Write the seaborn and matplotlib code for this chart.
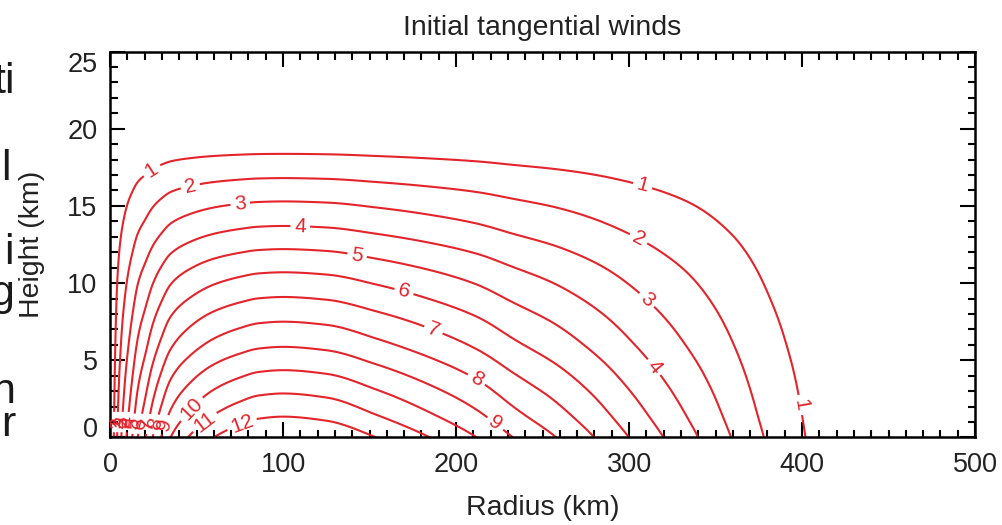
import numpy as np
import matplotlib
matplotlib.use("Agg")
import matplotlib.pyplot as plt
from matplotlib.ticker import MultipleLocator
import seaborn as sns

sns.set_style("ticks")
plt.rcParams['font.family'] = ['Liberation Sans', 'DejaVu Sans']

# ---- data ----
# surface tangential wind (m/s) versus radius (km)
radius_km = [0, 2.2, 4.1, 6.5, 9.5, 12.8, 16, 20.5, 24.6, 29.5, 35, 45, 60, 75, 86,
             100, 125, 154, 185, 212, 233, 258, 280, 300, 320, 340, 359, 378, 402, 415, 425, 500]
v_surface = [0, 1, 2, 3, 4, 5, 6, 7, 8, 9, 10, 11, 12, 12.6, 12.9,
             13, 12.8, 12, 11, 10, 9, 8, 7, 6, 5, 4, 3, 2, 1, 0.35, 0, 0]
# peak tangential wind (m/s) versus height (km)
height_km = [0, 1.35, 2.85, 4.36, 5.87, 7.5, 9.1, 10.7, 12.2, 13.7, 15.29, 16.8, 18.37, 19.5, 20.5, 26]
v_peak = [13, 12, 11, 10, 9, 8, 7, 6, 5, 4, 3, 2, 1, 0.35, 0, 0]

levels = [1, 2, 3, 4, 5, 6, 7, 8, 9, 10, 11, 12]
x_ticks = [0, 100, 200, 300, 400, 500]
y_ticks = [0, 5, 10, 15, 20, 25]

RED = '#e3242b'


def pchip(x, y, xn):
    x = np.asarray(x, float)
    y = np.asarray(y, float)
    h = np.diff(x)
    d = np.diff(y) / h
    m = np.zeros_like(y)
    for i in range(1, len(y) - 1):
        if d[i - 1] * d[i] > 0:
            w1 = 2 * h[i] + h[i - 1]
            w2 = h[i] + 2 * h[i - 1]
            m[i] = (w1 + w2) / (w1 / d[i - 1] + w2 / d[i])
    m[0] = d[0]
    m[-1] = d[-1]
    idx = np.clip(np.searchsorted(x, xn) - 1, 0, len(x) - 2)
    t = (xn - x[idx]) / h[idx]
    h00 = 2 * t**3 - 3 * t**2 + 1
    h10 = t**3 - 2 * t**2 + t
    h01 = -2 * t**3 + 3 * t**2
    h11 = t**3 - t**2
    return h00 * y[idx] + h10 * h[idx] * m[idx] + h01 * y[idx + 1] + h11 * h[idx] * m[idx + 1]


r = np.linspace(0, 500, 1001)
z = np.linspace(0, 26, 521)
vs = pchip(radius_km, v_surface, r)
decay = pchip(height_km, v_peak, z) / v_peak[0]
V = decay[:, None] * vs[None, :]

fig = plt.figure(figsize=(10.02, 5.25), dpi=100)
ax = fig.add_axes([0.1098, 0.1667, 0.8633, 0.7352])

label_spots = {
    1: [(23, 17.5), (308, 16.4), (399, 2.1), (1.5, 1.0)],
    2: [(46, 16.5), (306, 13.0), (4, 1.0)],
    3: [(75, 15.4), (311, 9.0), (7, 1.0)],
    4: [(110, 13.9), (316, 4.7), (10, 1.0)],
    5: [(143, 11.9), (13, 0.9)],
    6: [(170, 9.5), (17, 0.9)],
    7: [(188, 7.3), (21, 0.9)],
    8: [(213, 4.0), (25, 0.9)],
    9: [(224, 1.1), (30, 0.9)],
    10: [(45.7, 2.0)],
    11: [(52.4, 1.35)],
    12: [(75.5, 1.1)],
}
for lev in levels:
    cs = ax.contour(r, z, V, levels=[lev], colors=RED, linewidths=1.5)
    ax.clabel(cs, manual=label_spots[lev], inline=True, inline_spacing=4,
              fmt='%d', fontsize=15, colors=RED)

ax.set_xlim(0, 500)
ax.set_ylim(0, 25)
ax.set_xticks(x_ticks)
ax.set_yticks(y_ticks)
ax.xaxis.set_minor_locator(MultipleLocator(10))
ax.yaxis.set_minor_locator(MultipleLocator(1))
ax.tick_params(which='both', direction='in', top=True, right=True, width=1.5, colors='black')
ax.tick_params(which='major', length=10.5, labelsize=19.5)
ax.tick_params(which='minor', length=5.4)
ax.tick_params(axis='x', which='major', pad=10.5)
ax.tick_params(axis='y', which='major', pad=9)
for sp in ax.spines.values():
    sp.set_linewidth(1.8)
    sp.set_color('black')
for lbl in ax.get_xticklabels() + ax.get_yticklabels():
    lbl.set_color('#222222')

for lbl, val in zip(ax.yaxis.get_majorticklabels(), y_ticks):
    if val == 0:
        lbl.set_va('baseline')
    elif val == 25:
        lbl.set_va('top')

ax.set_xlabel('Radius (km)', fontsize=20.5, color='#222222')
ax.set_ylabel('Height (km)', fontsize=20.5, color='#222222')
ax.xaxis.set_label_coords(0.5, -0.150)
ax.yaxis.set_label_coords(-0.0755, 0.5)
ax.set_title('Initial tangential winds', fontsize=20.5, color='#222222', pad=12)

# fragments of neighbouring slide text cut by the left edge
frags = [("ti", 15, 93, 1.0), ("l", 11, 180, 1.0), ("i\ng", 14, 305, 1.02), ("n\nr", 15, 436, 0.77)]
for s, xp, yp, ls in frags:
    fig.text(xp / 1002, 1 - yp / 525, s, ha='right', va='baseline', multialignment='right',
             fontsize=31, linespacing=ls, color='#1a1a1a')

fig.savefig('out.png', dpi=100)
